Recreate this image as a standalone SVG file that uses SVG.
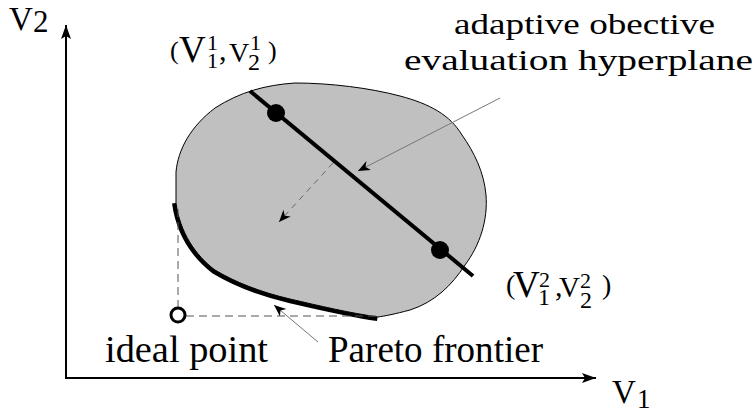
<svg xmlns="http://www.w3.org/2000/svg" width="755" height="416" viewBox="0 0 755 416" font-family="'Liberation Serif', 'Times New Roman', Times, serif">
<style>
.ax{stroke:#000;stroke-width:2;fill:none}
.ann{stroke:#777;stroke-width:1;fill:none}
.dash{stroke:#555;stroke-width:1;fill:none;stroke-dasharray:8 5}
</style>
<defs>
<marker id="ah" markerUnits="userSpaceOnUse" markerWidth="14" markerHeight="12" refX="12" refY="5" orient="auto" viewBox="0 0 14 12">
<path d="M0,0 L12,5 L0,10 L3.5,5 Z" fill="#000"/>
</marker>
<marker id="axh" markerUnits="userSpaceOnUse" markerWidth="16" markerHeight="12" refX="14" refY="5" orient="auto" viewBox="0 0 16 12">
<path d="M0,0 L14,5 L0,10 L3,5 Z" fill="#000"/>
</marker>
</defs>
<g id="pareto-frontier">
<path d="M175.5,203 C179.5,232 194.5,255 214.5,270.5 C234.5,282.5 259.5,292.5 289.5,299.5 C319.5,306.5 349.5,313.5 377.5,317.5" fill="none" stroke="#000" stroke-width="7"/>
</g>
<g id="region">
<path d="M176,203 L176,172 C178,150 190,127 215,108 C240,92 265,85 295,83 C330,83 370,88 400,96 C430,104 450,115 462,135 C474,152 484,172 486,195 C488,220 480,245 465,265 C452,285 435,302 410,310 C395,314 385,316 378,317 C350,313 320,306 290,299 C260,292 235,282 215,270 C195,255 180,232 176,203 Z" fill="#c0c0c0" stroke="#000" stroke-width="1"/>
</g>
<g id="connectors">
<path class="ax" d="M66,378 L66,25" marker-end="url(#axh)"/>
<path class="ax" d="M65,378 L596,378" marker-end="url(#axh)"/>
<path class="dash" d="M178,209 L178,308"/>
<path class="dash" d="M186,316 L376,316"/>
<path class="ann" d="M500,98 L358,171" marker-end="url(#ah)"/>
<path class="dash" d="M333,163 L279,222" marker-end="url(#ah)" style="stroke:#666;stroke-dasharray:6 5"/>
<path class="ann" d="M318,342 L274,305" marker-end="url(#ah)"/>
</g>
<g id="hyperplane">
<line x1="250" y1="91" x2="473" y2="276" stroke="#000" stroke-width="4"/>
</g>
<g id="point1"><circle cx="276" cy="113" r="9" fill="#000"/></g>
<g id="point2"><circle cx="440" cy="250" r="9" fill="#000"/></g>
<g id="ideal-point"><circle cx="178" cy="315" r="7" fill="#fff" stroke="#000" stroke-width="3"/></g>
<g id="axis-v2"><text x="9" y="30" font-size="33">V<tspan x="33" y="32" font-size="31">2</tspan></text></g>
<g id="axis-v1"><text x="612" y="403" font-size="33">V<tspan x="637" y="408" font-size="27">1</tspan></text></g>
<g id="label-p1">
<text x="170" y="59" font-size="26">(<tspan x="179" y="62" font-size="37">V</tspan><tspan x="207" y="50" font-size="22">1</tspan><tspan x="207" y="68" font-size="22">1</tspan><tspan x="219" y="60" font-size="30">,</tspan><tspan x="229" y="62" font-size="28">V</tspan><tspan x="250" y="50" font-size="22">1</tspan><tspan x="248" y="70" font-size="24">2</tspan><tspan x="268" y="59" font-size="26">)</tspan></text>
</g>
<g id="label-p2">
<text x="506" y="294" font-size="28">(<tspan x="513" y="297" font-size="37">V</tspan><tspan x="539" y="287" font-size="22">2</tspan><tspan x="538" y="305" font-size="24">1</tspan><tspan x="555" y="296" font-size="30">,</tspan><tspan x="559" y="297" font-size="29">V</tspan><tspan x="580" y="288" font-size="22">2</tspan><tspan x="580" y="308" font-size="24">2</tspan><tspan x="602" y="294" font-size="28">)</tspan></text>
</g>
<g id="label-hyperplane">
<text x="454" y="34" font-size="30" textLength="261" lengthAdjust="spacingAndGlyphs">adaptive obective</text>
<text x="404" y="70" font-size="30" textLength="349" lengthAdjust="spacingAndGlyphs">evaluation hyperplane</text>
</g>
<g id="label-ideal"><text x="105" y="362" font-size="38" textLength="163" lengthAdjust="spacingAndGlyphs">ideal point</text></g>
<g id="label-pareto"><text x="328" y="362" font-size="38" textLength="215" lengthAdjust="spacingAndGlyphs">Pareto frontier</text></g>
</svg>
